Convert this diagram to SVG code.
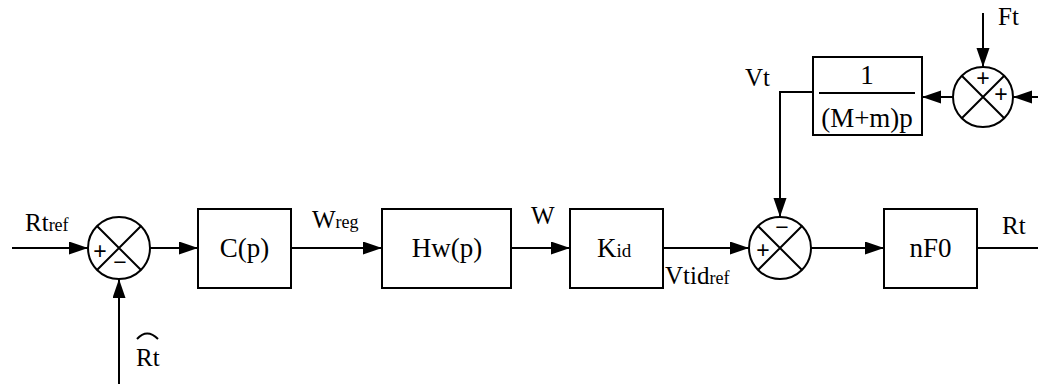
<svg xmlns="http://www.w3.org/2000/svg" width="1038" height="384" viewBox="0 0 1038 384">
<style>
.box{fill:#fff;stroke:#000;stroke-width:2}
.sum{fill:#fff;stroke:#000;stroke-width:2}
.x{stroke:#000;stroke-width:2;fill:none}
.ln{stroke:#000;stroke-width:2;fill:none}
.t{font-family:"Liberation Serif","Times New Roman",serif;fill:#000}
.bt{font-size:27px}
.lb{font-size:25px}
.sb{font-size:18px}
.sg{font-family:"Liberation Sans",Arial,sans-serif;font-size:23px;fill:#000;text-anchor:middle}
</style>
<defs>
<marker id="ah" markerUnits="userSpaceOnUse" markerWidth="20" markerHeight="14" refX="19" refY="6.5" orient="auto">
<path d="M0,0 L19,6.5 L0,13 z" fill="#000"/>
</marker>
</defs>
<g id="connectors">
<path class="ln" d="M12,248 H88" marker-end="url(#ah)"/>
<path class="ln" d="M150,248 H198" marker-end="url(#ah)"/>
<path class="ln" d="M291,248 H382" marker-end="url(#ah)"/>
<path class="ln" d="M511,248 H570" marker-end="url(#ah)"/>
<path class="ln" d="M663,248 H749" marker-end="url(#ah)"/>
<path class="ln" d="M811,248 H884" marker-end="url(#ah)"/>
<path class="ln" d="M977,248 H1038"/>
<path class="ln" d="M119,384 V279" marker-end="url(#ah)"/>
<path class="ln" d="M813,92 H780 V217" marker-end="url(#ah)"/>
<path class="ln" d="M953,97 H922" marker-end="url(#ah)"/>
<path class="ln" d="M1038,97 H1013" marker-end="url(#ah)"/>
<path class="ln" d="M983,13 V67" marker-end="url(#ah)"/>
</g>
<g id="sum1">
<circle class="sum" cx="119" cy="248" r="31"/>
<path class="x" d="M97,226 L141,270 M141,226 L97,270"/>
<text class="sg" x="100" y="259">+</text>
<text class="sg" x="120" y="270">−</text>
</g>
<g id="Cp">
<rect class="box" x="198" y="209" width="93" height="79"/>
<text class="t bt" x="244.5" y="257" text-anchor="middle">C(p)</text>
</g>
<g id="Hw">
<rect class="box" x="382" y="209" width="129" height="79"/>
<text class="t bt" x="447" y="257" text-anchor="middle">Hw(p)</text>
</g>
<g id="Kid">
<rect class="box" x="570" y="209" width="93" height="79"/>
<text class="t bt" x="597" y="257">K<tspan font-size="19">id</tspan></text>
</g>
<g id="sum2">
<circle class="sum" cx="780" cy="248" r="31"/>
<path class="x" d="M758,226 L802,270 M802,226 L758,270"/>
<text class="sg" x="782" y="235">−</text>
<text class="sg" x="763" y="258">+</text>
</g>
<g id="nF0">
<rect class="box" x="884" y="209" width="93" height="79"/>
<text class="t bt" x="930.5" y="257" text-anchor="middle">nF0</text>
</g>
<g id="mass">
<rect class="box" x="813" y="57" width="109" height="78"/>
<line class="ln" x1="819" y1="93" x2="915" y2="93"/>
<text class="t bt" x="867" y="84" text-anchor="middle">1</text>
<text class="t bt" x="867" y="127" text-anchor="middle">(M+m)p</text>
</g>
<g id="sum3">
<circle class="sum" cx="983" cy="97" r="30"/>
<path class="x" d="M962,76 L1004,118 M1004,76 L962,118"/>
<text class="sg" x="983" y="86">+</text>
<text class="sg" x="1001" y="102">+</text>
</g>
<g id="labels">
<text class="t lb" x="25" y="231">Rt<tspan class="sb">ref</tspan></text>
<text class="t lb" x="136" y="366">Rt</text>
<path class="ln" d="M137,339 Q147,328 158,339" stroke-width="1.5"/>
<text class="t lb" x="312" y="228">W<tspan class="sb">reg</tspan></text>
<text class="t lb" x="531" y="224">W</text>
<text class="t lb" x="665" y="284">Vtid<tspan class="sb">ref</tspan></text>
<text class="t lb" x="1002" y="234">Rt</text>
<text class="t lb" x="745" y="86">Vt</text>
<text class="t lb" x="998" y="25">Ft</text>
</g>
</svg>
